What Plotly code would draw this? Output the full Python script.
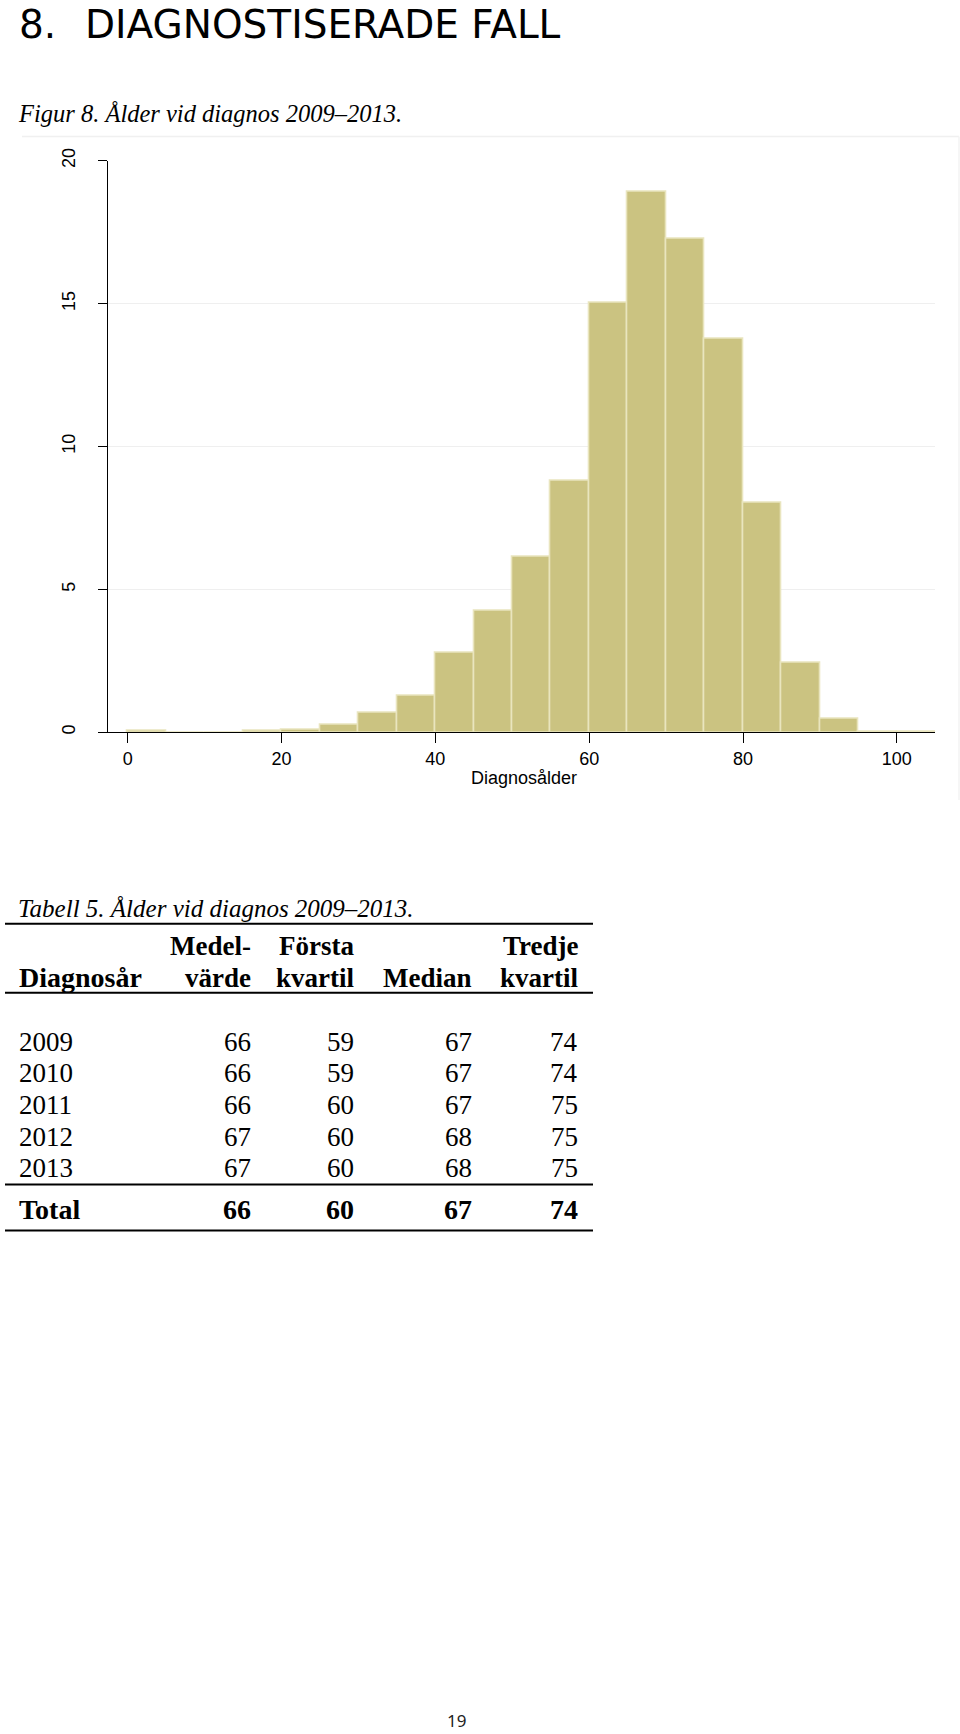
import plotly.graph_objects as go

# ---------------- data ----------------
bin_start = [0, 5, 10, 15, 20, 25, 30, 35, 40, 45, 50, 55, 60, 65, 70, 75, 80, 85, 90, 95, 100]
bin_width = 5
percent = [0.04, 0.0, 0.0, 0.05, 0.10, 0.27, 0.70, 1.29, 2.77, 4.24, 6.13, 8.79,
           15.03, 18.92, 17.27, 13.78, 8.03, 2.44, 0.48, 0.03, 0.03]
x_ticks = [0, 20, 40, 60, 80, 100]
y_ticks = [0, 5, 10, 15, 20]

years = ["2009", "2010", "2011", "2012", "2013"]
medel = [66, 66, 66, 67, 67]
forsta = [59, 59, 60, 60, 60]
median = [67, 67, 67, 68, 68]
tredje = [74, 74, 75, 75, 75]
total_label = "Total"
total_vals = [66, 60, 67, 74]

heading_num = "8."
heading_text = "DIAGNOSTISERADE FALL"
fig_caption = "Figur 8. Ålder vid diagnos 2009–2013."
tab_caption = "Tabell 5. Ålder vid diagnos 2009–2013."
x_title = "Diagnosålder"
page_no = "19"

# ---------------- layout helpers ----------------
W, H = 960, 1734
OFF, SC = 12.4, 0.9922   # empirical vertical correction of the rendered page

def px(x):
    return x / W

def py_raw(s):
    return 1 - s / H

def py(y_ref):
    return py_raw((y_ref - OFF) / SC)

SERIF = "Liberation Serif, Times New Roman, serif"
SANS = "Liberation Sans, Arial, sans-serif"

centers = [s + bin_width / 2 for s in bin_start]

fig = go.Figure()
fig.add_trace(go.Bar(
    x=centers, y=percent, width=[bin_width] * len(centers),
    marker=dict(color="#CBC381", line=dict(color="#E9E5BE", width=1.6)),
    hoverinfo="x+y", showlegend=False,
))

fig.update_layout(
    width=W, height=H,
    margin=dict(l=0, r=0, t=0, b=0),
    paper_bgcolor="white", plot_bgcolor="white",
    bargap=0,
    xaxis=dict(
        domain=[px(108.3), px(935.3)], range=[-2.52, 105.0],
        tickmode="array", tickvals=x_ticks, ticktext=[str(v) for v in x_ticks],
        showline=True, linecolor="black", linewidth=1.3,
        ticks="outside", ticklen=10, tickwidth=1.3, tickcolor="black",
        showgrid=False, zeroline=False,
        tickfont=dict(family=SANS, size=18, color="black"),
        ticklabelstandoff=0,
        fixedrange=True,
    ),
    yaxis=dict(
        domain=[py(732.3), py(160.3)], range=[0, 20],
        tickmode="array", tickvals=y_ticks, ticktext=[str(v) for v in y_ticks],
        showline=True, linecolor="black", linewidth=1.3,
        ticks="outside", ticklen=9, tickwidth=1.3, tickcolor="black",
        showgrid=True, gridcolor="#EFEFEF", gridwidth=1,
        zeroline=False, tickangle=-90,
        tickfont=dict(family=SANS, size=18, color="black"),
        ticklabelstandoff=16,
        fixedrange=True,
    ),
)

ann = []
def text(x, yfrac, s, size, family, xanchor="left", color="black", bold=False, italic=False):
    if bold:
        s = "<b>" + s + "</b>"
    if italic:
        s = "<i>" + s + "</i>"
    ann.append(dict(x=px(x), y=yfrac, xref="paper", yref="paper", text=s,
                    showarrow=False, xanchor=xanchor, yanchor="middle",
                    font=dict(family=family, size=size, color=color)))

# heading
text(17, py_raw(11.5), heading_num, 39, "DejaVu Sans")
text(83, py_raw(11.5), heading_text, 39, "DejaVu Sans")
# figure caption
text(16, py(113), fig_caption, 24.5, SERIF, italic=True)
# x axis title
text(523.5, py(778), x_title, 18, SANS, xanchor="center")

# table caption
text(16, py(909), tab_caption, 25, SERIF, italic=True)

# table header
col_right = [252.6, 356, 474, 580]
TS = 27
text(col_right[0], py(946), "Medel-", TS, SERIF, xanchor="right", bold=True)
text(col_right[1], py(946), "Första", TS, SERIF, xanchor="right", bold=True)
text(col_right[3], py(946), "Tredje", TS, SERIF, xanchor="right", bold=True)
text(17, py(978), "Diagnosår", 28, SERIF, bold=True)
text(col_right[0], py(978), "värde", TS, SERIF, xanchor="right", bold=True)
text(col_right[1], py(978), "kvartil", TS, SERIF, xanchor="right", bold=True)
text(col_right[2], py(978), "Median", TS, SERIF, xanchor="right", bold=True)
text(col_right[3], py(978), "kvartil", TS, SERIF, xanchor="right", bold=True)

row_y = [1042, 1073, 1105, 1137, 1168]
for i, yr in enumerate(years):
    yy = py(row_y[i])
    text(17, yy, yr, TS, SERIF)
    for c, v in enumerate([medel[i], forsta[i], median[i], tredje[i]]):
        text(col_right[c], yy, str(v), TS, SERIF, xanchor="right")

text(17, py(1210), total_label, 28, SERIF, bold=True)
for c, v in enumerate(total_vals):
    text(col_right[c], py(1210), str(v), 28, SERIF, xanchor="right", bold=True)

# page number
text(456, py(1721), page_no, 17, "Noto Sans, DejaVu Sans", xanchor="center", color="#222222")

fig.update_layout(annotations=ann)

# table rules and faint graph-region border
shapes = []
for yy in [924, 993, 1185, 1231]:
    shapes.append(dict(type="line", xref="paper", yref="paper",
                       x0=px(5), x1=px(593), y0=py(yy), y1=py(yy),
                       line=dict(color="black", width=2)))
shapes.append(dict(type="line", xref="paper", yref="paper",
                   x0=px(22), x1=px(959), y0=py(136), y1=py(136),
                   line=dict(color="#F0F0F0", width=1.5)))
shapes.append(dict(type="line", xref="paper", yref="paper",
                   x0=px(959), x1=px(959), y0=py(136), y1=py(800),
                   line=dict(color="#F3F3F3", width=1.5)))
fig.update_layout(shapes=shapes)

fig.write_html("out.html")
